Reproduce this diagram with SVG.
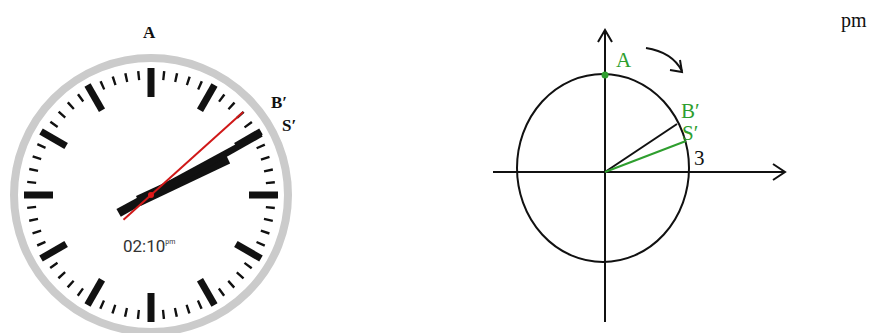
<svg xmlns="http://www.w3.org/2000/svg" xmlns:xlink="http://www.w3.org/1999/xlink" width="875" height="333" viewBox="0 0 875 333">
<style>
.lbl{font-family:"Liberation Serif",serif;font-weight:bold;font-size:17px;fill:#111}
.glbl{font-family:"Liberation Serif",serif;font-size:21px;fill:#2e9e2e}
.blk{font-family:"Liberation Serif",serif;font-size:21px;fill:#111}
.ax{stroke:#111;stroke-width:2;fill:none}
</style>
<defs>
<rect id="hm" x="-3.5" y="-127" width="7" height="29" fill="#111"/>
</defs>
<rect width="875" height="333" fill="#fff"/>
<g id="clock" transform="translate(151,195)">
<circle r="137" fill="#fff" stroke="#cbcbcb" stroke-width="8"/>
<circle r="120" fill="none" stroke="#111" stroke-width="9" stroke-dasharray="2.4 10.166" stroke-dashoffset="1.2"/>
<use xlink:href="#hm"/>
<use xlink:href="#hm" transform="rotate(30)"/>
<use xlink:href="#hm" transform="rotate(60)"/>
<use xlink:href="#hm" transform="rotate(90)"/>
<use xlink:href="#hm" transform="rotate(120)"/>
<use xlink:href="#hm" transform="rotate(150)"/>
<use xlink:href="#hm" transform="rotate(180)"/>
<use xlink:href="#hm" transform="rotate(210)"/>
<use xlink:href="#hm" transform="rotate(240)"/>
<use xlink:href="#hm" transform="rotate(270)"/>
<use xlink:href="#hm" transform="rotate(300)"/>
<use xlink:href="#hm" transform="rotate(330)"/>
<text x="-28" y="57" font-family="Roboto,sans-serif" font-size="17" fill="#333">02:10<tspan font-size="7" dy="-8">pm</tspan></text>
<polygon points="-5,-85 5,-85 5.5,14 -5.5,14" fill="#111" transform="rotate(65)"/>
<polygon points="-3,-126 3,-126 4.5,37 -4.5,37" fill="#111" transform="rotate(61)"/>
<line x1="0" y1="37" x2="0" y2="-124" stroke="#d01818" stroke-width="2" transform="rotate(48)"/>
<circle r="3" fill="#e01818"/>
</g>
<g id="clock-labels">
<text class="lbl" x="143" y="38">A</text>
<text class="lbl" x="271" y="108">B′</text>
<text class="lbl" x="282" y="131">S′</text>
</g>
<g id="circle-diagram">
<ellipse cx="603" cy="168" rx="86" ry="94" class="ax"/>
</g>
<g id="connectors">
<line x1="493" y1="172" x2="785" y2="172" class="ax"/>
<polyline points="773,164 785,172 773,180" class="ax"/>
<line x1="605" y1="322" x2="605" y2="30" class="ax"/>
<polyline points="598,42 605,30 612,42" class="ax"/>
<line x1="605" y1="172" x2="677" y2="124" class="ax"/>
<line x1="605" y1="172" x2="686" y2="141" stroke="#2e9e2e" stroke-width="2"/>
<path d="M646 48 Q672 52 682 71" class="ax"/>
<polyline points="670,70 682,72 680,60" class="ax"/>
</g>
<g id="point-A">
<circle cx="605" cy="75" r="3.5" fill="#2e9e2e"/>
<text class="glbl" x="616" y="67">A</text>
</g>
<g id="circle-labels">
<text class="glbl" x="681" y="118">B′</text>
<text class="glbl" x="682" y="140">S′</text>
<text class="blk" x="694" y="165">3</text>
</g>
<text x="841" y="27" font-family="Liberation Serif,serif" font-size="20" fill="#111">pm</text>
</svg>
